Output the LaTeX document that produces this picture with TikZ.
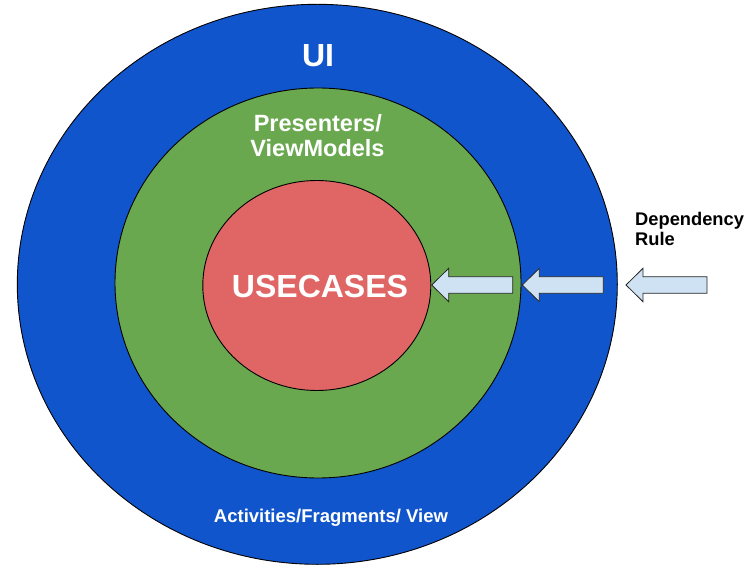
\documentclass[tikz,border=0pt]{standalone}
\usepackage{fontspec}
\setmainfont{Liberation Sans}
\usetikzlibrary{shapes.geometric}
\definecolor{uiblue}{HTML}{1155CC}
\definecolor{pgreen}{HTML}{6AA84F}
\definecolor{ured}{HTML}{E06666}
\definecolor{arrfill}{HTML}{CFE2F3}
\tikzset{
  ring/.style={ellipse, draw=black, line width=0.9pt, inner sep=0pt},
  wlabel/.style={anchor=base, text=white, inner sep=0pt, font=\bfseries},
  blabel/.style={anchor=base west, text=black, inner sep=0pt, font=\bfseries\fontsize{18.3}{21}\selectfont},
  blockarr/.style={draw=black!85, fill=arrfill, line width=0.8pt, line join=miter},
}
\newcommand\depArrow[1]{%
  \draw[blockarr] (#1) -- ++(17,-16.7) -- ++(0,8.4) -- ++(64,0) -- ++(0,16.6)
    -- ++(-64,0) -- ++(0,8.4) -- cycle;}
\begin{document}
\begin{tikzpicture}[x=1pt,y=-1pt]
\useasboundingbox (0,0) rectangle (753,580);
\node[ring, fill=uiblue, minimum width=600pt, minimum height=560pt] (ui) at (317.3,284.3) {};
\node[ring, fill=pgreen, minimum width=406pt, minimum height=390pt] (pres) at (318,283) {};
\node[ring, fill=ured, minimum width=228pt, minimum height=210pt] (uc) at (316.8,285.5) {};

\node[wlabel, font=\bfseries\fontsize{32}{36}\selectfont] (uitext) at (318,66.7) {UI};
\node[wlabel, font=\bfseries\fontsize{23.5}{26}\selectfont] (pres1) at (317.8,132) {Presenters/};
\node[wlabel, font=\bfseries\fontsize{23.5}{26}\selectfont] (pres2) at (317.5,156.5) {ViewModels};
\node[wlabel, font=\bfseries\fontsize{32}{36}\selectfont] (uctext) at (320,297.3) {USECASES};
\node[wlabel, font=\bfseries\fontsize{18.5}{22}\selectfont] (act) at (331,522.3) {Activities/Fragments/ View};

\node[blabel] (dep1) at (635,226) {Dependency};
\node[blabel] (dep2) at (635,246) {Rule};

\coordinate (a1) at (431.7,285);
\coordinate (a2) at (522.3,285);
\coordinate (a3) at (626,285);
\depArrow{a1}
\depArrow{a2}
\depArrow{a3}
\end{tikzpicture}
\end{document}
